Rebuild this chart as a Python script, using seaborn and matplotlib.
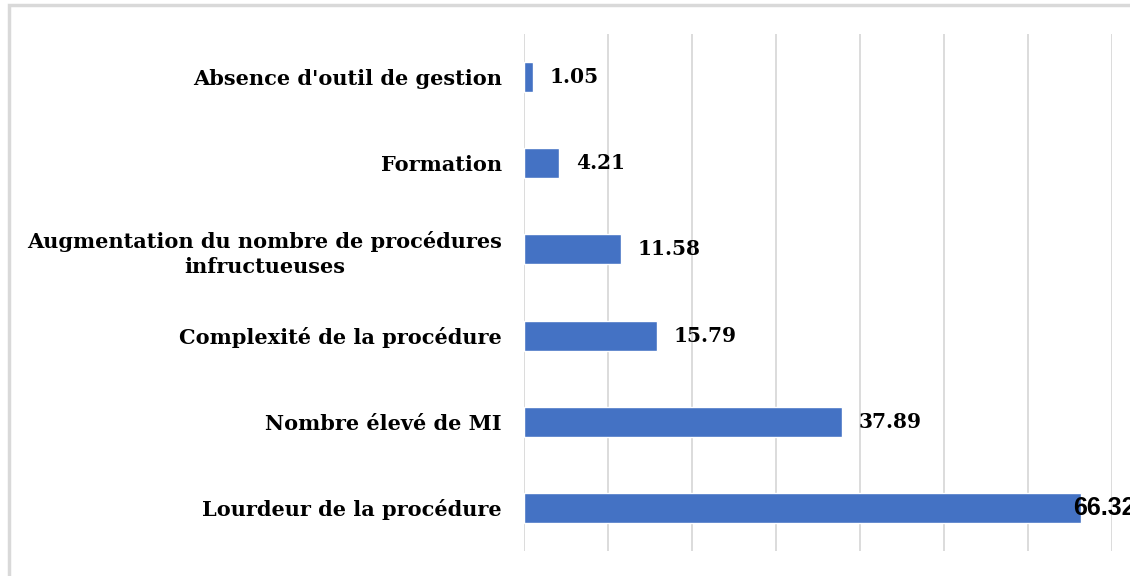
import matplotlib
matplotlib.use("Agg")
import matplotlib.pyplot as plt
import seaborn as sns
import pandas as pd
from matplotlib.patches import Rectangle

# Data
categories = [
    "Absence d'outil de gestion",
    "Formation",
    "Augmentation du nombre de procédures\ninfructueuses",
    "Complexité de la procédure",
    "Nombre élevé de MI",
    "Lourdeur de la procédure",
]
values = [1.05, 4.21, 11.58, 15.79, 37.89, 66.32]

df = pd.DataFrame({'cause': categories, 'pct': values})

sns.set_style("white")
plt.rcParams['font.family'] = ['DejaVu Serif']
plt.rcParams['text.color'] = 'black'
plt.rcParams['ytick.color'] = 'black'

fig = plt.figure(figsize=(11.3, 5.76), dpi=100)
ax = fig.add_axes([524 / 1130, 1 - 551 / 576, (1112 - 524) / 1130, (551 - 34) / 576])

# outer chart frame (cropped on right and bottom)
fig.patches.append(Rectangle((9 / 1130, -0.1), 1.2, 1 - 5 / 576 + 0.1,
                             transform=fig.transFigure, fill=False,
                             edgecolor='#d9d9d9', linewidth=2.5, zorder=0))

sns.barplot(data=df, x='pct', y='cause', orient='h', color='#4472C4',
            width=0.35, saturation=1, ax=ax, zorder=3)

ax.set_xlim(0, 70)
ax.set_ylim(5.5, -0.5)
ax.set_xticks(range(0, 71, 10))
ax.xaxis.grid(True, color='#d9d9d9', linewidth=1.3)
ax.set_axisbelow(True)
ax.tick_params(axis='x', length=0, labelbottom=False)
ax.tick_params(axis='y', length=0, pad=16)
for s in ax.spines.values():
    s.set_visible(False)
ax.set_xlabel('')
ax.set_ylabel('')

for lbl in ax.get_yticklabels():
    lbl.set_fontweight('bold')
    lbl.set_fontsize(15)
    lbl.set_multialignment('center')
    lbl.set_linespacing(1.3)
    lbl.set_color('black')

# value labels
for i, v in enumerate(values):
    if v == max(values):
        ax.annotate(f"{v:.2f}", (v, i), xytext=(-6, 0), textcoords='offset points',
                    va='center', ha='left', fontsize=18, fontweight='bold',
                    family='Liberation Sans', zorder=5, annotation_clip=False)
    else:
        ax.annotate(f"{v:.2f}", (v, i), xytext=(12, 0), textcoords='offset points',
                    va='center', ha='left', fontsize=14.5, fontweight='bold', zorder=5)

fig.savefig('out.png', dpi=100)
